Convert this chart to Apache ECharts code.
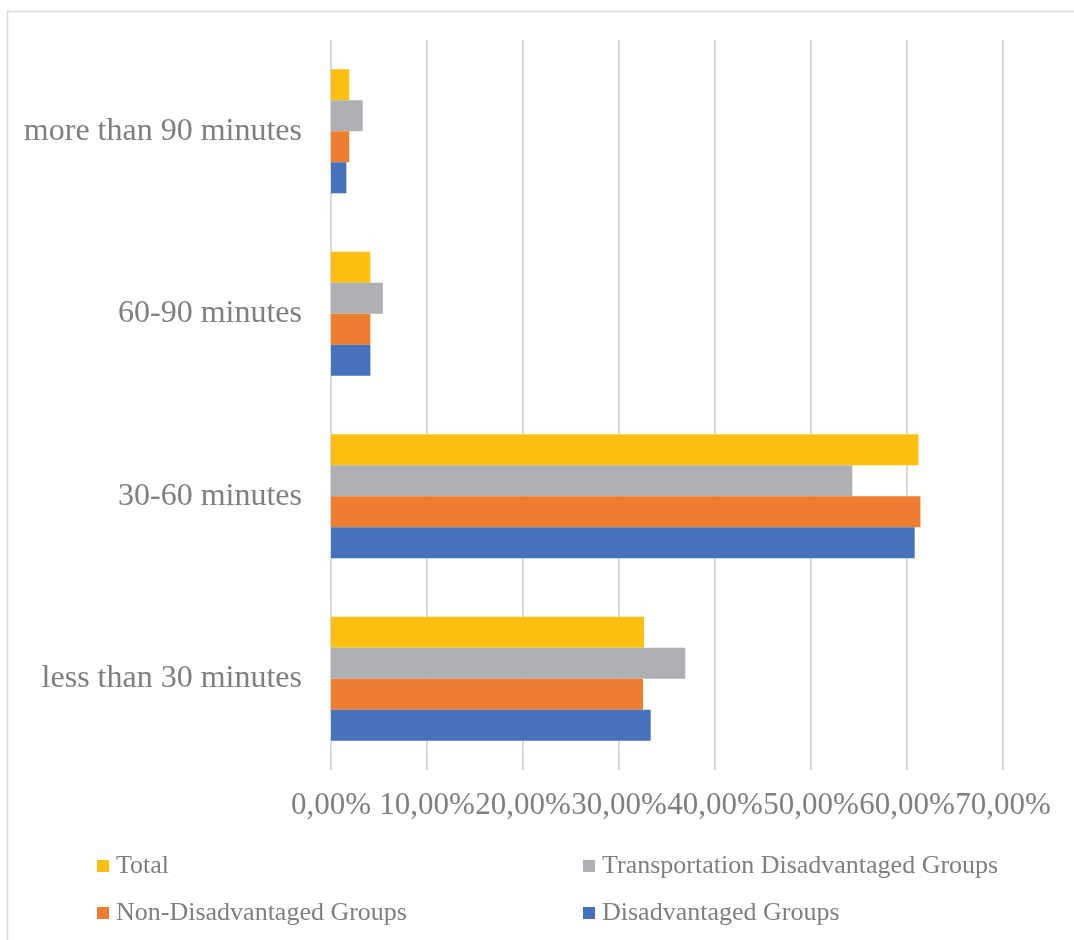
<!DOCTYPE html>
<html>
<head>
<meta charset="utf-8">
<title>Travel time by group</title>
<script src="https://cdn.jsdelivr.net/npm/echarts@6/dist/echarts.min.js"></script>
<style>
  html, body { margin: 0; padding: 0; background: #fff; }
  #chart { width: 1074px; height: 940px; }
</style>
</head>
<body>
<div id="chart"></div>
<script>
// Travel time categories, bottom to top on the vertical axis
const categories = ['less than 30 minutes', '30-60 minutes', '60-90 minutes', 'more than 90 minutes'];

// Share of respondents (%) per category
const disadvantaged = [33.3, 60.8, 4.1, 1.6];
const nonDisadvantaged = [32.5, 61.4, 4.1, 1.9];
const transportDisadvantaged = [36.9, 54.3, 5.4, 3.3];
const total = [32.6, 61.2, 4.1, 1.9];

// Axis range (%)
const axisMin = 0;
const axisMax = 70;
const axisStep = 10;

const textGray = '#7f7f7f';
const font = '"Liberation Serif", "DejaVu Serif", serif';

const colors = {
  total: '#fdc010',
  transport: '#afb0b3',
  nonDis: '#ed7d31',
  dis: '#4671bb'
};

const chart = echarts.init(document.getElementById('chart'), null, { renderer: 'canvas' });

const barBase = { type: 'bar', barGap: '0%', barCategoryGap: '32%', animation: false };

const legendText = { color: textGray, fontFamily: font, fontSize: 26, lineHeight: 26, padding: [0, 0, 0, 2] };

chart.setOption({
  backgroundColor: '#fff',
  animation: false,
  graphic: [{
    type: 'rect',
    shape: { x: 7.5, y: 11.5, width: 1200, height: 1200 },
    style: { fill: 'none', stroke: '#d9d9d9', lineWidth: 1.5 },
    silent: true,
    z: -1
  }],
  grid: { left: 331, right: 71, top: 40, bottom: 170, containLabel: false },
  xAxis: {
    type: 'value',
    min: axisMin,
    max: axisMax,
    interval: axisStep,
    axisLine: { show: false },
    axisTick: { show: false },
    splitLine: { show: true, lineStyle: { color: '#d9d9d9', width: 2 } },
    axisLabel: {
      color: textGray,
      fontFamily: font,
      fontSize: 31,
      margin: 20,
      formatter: v => v.toFixed(2).replace('.', ',') + '%'
    }
  },
  yAxis: {
    type: 'category',
    data: categories,
    axisLine: { show: false },
    axisTick: { show: false },
    splitLine: { show: false },
    axisLabel: { color: textGray, fontFamily: font, fontSize: 32, margin: 29 }
  },
  legend: [
    {
      left: 92, top: 848, orient: 'vertical',
      icon: 'rect', itemWidth: 12, itemHeight: 12, itemGap: 21,
      textStyle: legendText,
      data: ['Total', 'Non-Disadvantaged Groups']
    },
    {
      left: 578, top: 848, orient: 'vertical',
      icon: 'rect', itemWidth: 12, itemHeight: 12, itemGap: 21,
      textStyle: legendText,
      data: ['Transportation Disadvantaged Groups', 'Disadvantaged Groups']
    }
  ],
  // Listed top-down within each group: Total, Transportation, Non-Disadvantaged, Disadvantaged
  series: [
    Object.assign({ name: 'Total', data: total, itemStyle: { color: colors.total } }, barBase),
    Object.assign({ name: 'Transportation Disadvantaged Groups', data: transportDisadvantaged, itemStyle: { color: colors.transport } }, barBase),
    Object.assign({ name: 'Non-Disadvantaged Groups', data: nonDisadvantaged, itemStyle: { color: colors.nonDis } }, barBase),
    Object.assign({ name: 'Disadvantaged Groups', data: disadvantaged, itemStyle: { color: colors.dis } }, barBase)
  ]
});
</script>
</body>
</html>
